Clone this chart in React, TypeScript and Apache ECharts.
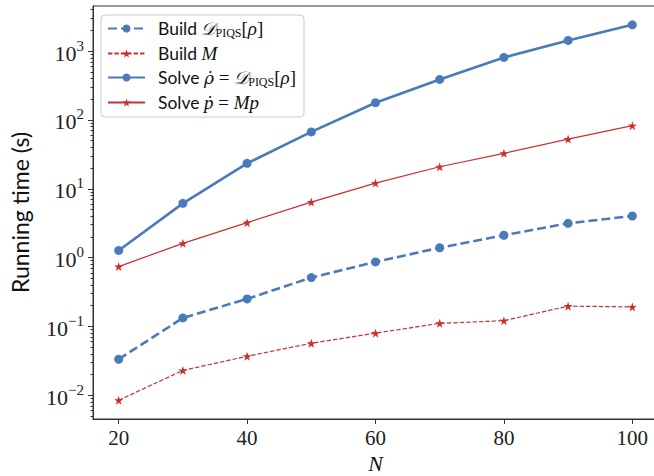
import React, { useEffect, useRef } from "react";
import * as echarts from "echarts";

const N = [20, 30, 40, 50, 60, 70, 80, 90, 100];
const buildD = [0.0333, 0.1327, 0.251, 0.512, 0.865, 1.39, 2.11, 3.15, 4.02];
const buildM = [0.00845, 0.0229, 0.0368, 0.0569, 0.0798, 0.1107, 0.121, 0.197, 0.192];
const solveRho = [1.27, 6.14, 23.4, 67, 178, 388, 809, 1430, 2415];
const solveP = [0.74, 1.61, 3.22, 6.41, 12.1, 20.9, 32.7, 52.7, 82.6];

const xTicks = [20, 40, 60, 80, 100];
const yTicks = [0.01, 0.1, 1, 10, 100, 1000];
const yMinorTicks: number[] = [];
for (let k = -3; k <= 3; k++) {
  for (let m = 2; m <= 9; m++) yMinorTicks.push(Number((m * Math.pow(10, k)).toPrecision(3)));
}

const names = ["Build D", "Build M", "Solve rho", "Solve p"];
const legendRich: Record<string, string> = {
  "Build D": "{t|Build }{cal|𝒟}{sub|PIQS}{m|[}{i|ρ}{m|]}",
  "Build M": "{t|Build }{i|M}",
  "Solve rho": "{t|Solve }{rd|ρ̇}{m| = }{cal|𝒟}{sub|PIQS}{m|[}{i|ρ}{m|]}",
  "Solve p": "{t|Solve }{i|ṗ}{m| = }{i|Mp}",
};

const BLUE = "#4a7ab8";
const RED = "#c9302f";
const STAR =
  "path://M50,0 L61.8,35.1 L97.6,34.5 L68.8,55.9 L79.4,90.5 L50,69.5 L20.6,90.5 L31.2,55.9 L2.4,34.5 L38.2,35.1 Z";
const SERIF = "'Liberation Serif', 'DejaVu Serif', serif";
const SANS = "Lato, 'Noto Sans', sans-serif";
const Y_MIN = 0.00451;
const Y_MAX = 4529;

const supStr = (e: number) => (e < 0 ? "−" + Math.abs(e) : String(e));

export default function App() {
  const ref = useRef<HTMLDivElement>(null);
  useEffect(() => {
    if (!ref.current) return;
    const chart = echarts.init(ref.current, undefined, { renderer: "svg" });
    const pairs = (v: number[]) => N.map((n, i) => [n, v[i]]);
    const gridBox = { left: 93, top: 6, width: 565, height: 413, outerBoundsMode: "none" };
    chart.setOption({
      animation: false,
      backgroundColor: "#ffffff",
      grid: [
        {
          ...gridBox,
          show: true,
          borderColor: "#333",
          borderWidth: 1,
          backgroundColor: "transparent",
        },
        { ...gridBox, show: false },
      ],
      legend: {
        orient: "vertical",
        left: 101,
        top: 15,
        padding: [4, 8, 5, 6],
        itemGap: 5,
        itemWidth: 37,
        itemHeight: 10,
        backgroundColor: "rgba(255,255,255,0.85)",
        borderColor: "#cccccc",
        borderWidth: 1,
        borderRadius: 4,
        data: names,
        formatter: (name: string) => legendRich[name],
        textStyle: {
          rich: {
            t: { fontFamily: SANS, fontSize: 17.5, color: "#111", lineHeight: 21, padding: [0, 0, 0, 8], verticalAlign: "middle" },
            cal: { fontFamily: SERIF, fontStyle: "italic", fontSize: 18, color: "#111", lineHeight: 21, verticalAlign: "middle" },
            sub: { fontFamily: SERIF, fontSize: 12, color: "#111", lineHeight: 13, verticalAlign: "bottom" },
            m: { fontFamily: SERIF, fontSize: 19, color: "#111", lineHeight: 21, verticalAlign: "middle" },
            i: { fontFamily: SERIF, fontStyle: "italic", fontSize: 19, color: "#111", lineHeight: 21, verticalAlign: "middle" },
            rd: { fontFamily: "'DejaVu Serif', serif", fontStyle: "italic", fontSize: 17, color: "#111", lineHeight: 21, verticalAlign: "middle" },
          },
        },
      },
      xAxis: [
        {
          type: "value",
          gridIndex: 0,
          min: 16,
          max: 104,
          name: "N",
          nameLocation: "middle",
          nameGap: 33,
          nameMoveOverlap: false,
          nameTextStyle: { fontFamily: SERIF, fontStyle: "italic", fontSize: 22, color: "#111", lineHeight: 22 },
          axisLine: { show: true, lineStyle: { color: "#333", width: 1 } },
          axisTick: { show: true, length: 5, customValues: xTicks, lineStyle: { color: "#333" } },
          axisLabel: {
            customValues: xTicks,
            margin: 11,
            fontFamily: SERIF,
            fontSize: 21,
            lineHeight: 16,
            color: "#222",
          },
          splitLine: { show: false },
        },
        {
          type: "value",
          gridIndex: 1,
          min: 16,
          max: 104,
          show: false,
        },
      ],
      yAxis: [
        {
          type: "log",
          gridIndex: 0,
          logBase: 10,
          min: Y_MIN,
          max: Y_MAX,
          name: "Running time (s)",
          nameLocation: "middle",
          nameGap: 62,
          nameMoveOverlap: false,
          nameRotate: 90,
          nameTextStyle: { fontFamily: SANS, fontSize: 23, color: "#111" },
          axisLine: { show: true, lineStyle: { color: "#333", width: 1 } },
          axisTick: { show: true, length: 5, customValues: yTicks, lineStyle: { color: "#333" } },
          axisLabel: {
            customValues: yTicks,
            margin: 9,
            formatter: (v: number) => `{b|10}{s|${supStr(Math.round(Math.log10(v)))}}`,
            rich: {
              b: { fontFamily: SERIF, fontSize: 22, color: "#222", lineHeight: 26, verticalAlign: "bottom" },
              s: { fontFamily: SERIF, fontSize: 15, color: "#222", lineHeight: 15, verticalAlign: "top" },
            },
          },
          splitLine: { show: false },
        },
        {
          type: "log",
          gridIndex: 1,
          logBase: 10,
          min: Y_MIN,
          max: Y_MAX,
          position: "left",
          axisLine: { show: false },
          axisTick: { show: true, length: 2.5, customValues: yMinorTicks, lineStyle: { color: "#333" } },
          axisLabel: { show: false },
          splitLine: { show: false },
        },
      ],
      series: [
        {
          name: names[0],
          type: "line",
          data: pairs(buildD),
          symbol: "circle",
          symbolSize: 9,
          itemStyle: { color: BLUE },
          lineStyle: { color: BLUE, width: 2.6, type: [9, 4] },
        },
        {
          name: names[1],
          type: "line",
          data: pairs(buildM),
          symbol: STAR,
          symbolSize: 9,
          itemStyle: { color: RED },
          lineStyle: { color: RED, width: 1.2, type: [4.4, 2] },
        },
        {
          name: names[2],
          type: "line",
          data: pairs(solveRho),
          symbol: "circle",
          symbolSize: 9,
          itemStyle: { color: BLUE },
          lineStyle: { color: BLUE, width: 2.6 },
        },
        {
          name: names[3],
          type: "line",
          data: pairs(solveP),
          symbol: STAR,
          symbolSize: 9,
          itemStyle: { color: RED },
          lineStyle: { color: RED, width: 1.2 },
        },
      ],
    });
    return () => chart.dispose();
  }, []);
  return (
    <div
      ref={ref}
      style={{ position: "absolute", left: 0, top: 0, width: 654, height: 476 }}
    />
  );
}
